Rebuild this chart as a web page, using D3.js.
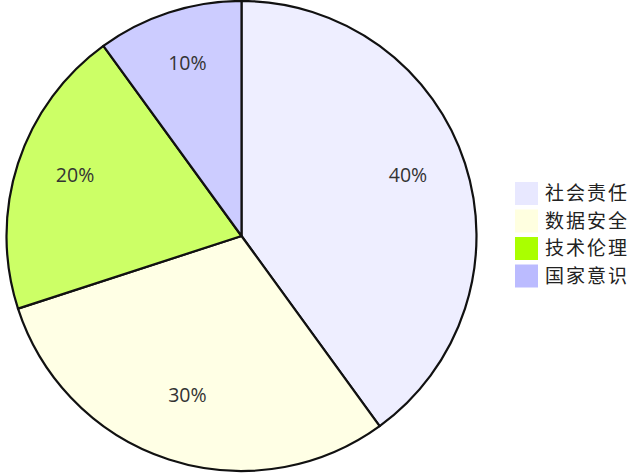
<!DOCTYPE html>
<html><head><meta charset="utf-8">
<script src="https://cdn.jsdelivr.net/npm/d3@7/dist/d3.min.js"></script>
<style>body{margin:0;background:#fff;}svg{display:block;}</style>
</head><body>
<svg id="c" width="639" height="474"></svg>
<script>
const categories = ["社会责任", "数据安全", "技术伦理", "国家意识"];
const values = [40, 30, 20, 10];
const labels = ["40%", "30%", "20%", "10%"];
const sliceColors = ["#eeeeff", "#ffffe5", "#ccff66", "#ccccff"];
const legendColors = ["#e8e8ff", "#ffffe0", "#aaff00", "#bbbbff"];

const svg = d3.select("#c");
const cx = 241.5, cy = 236, R = 235;
const g = svg.append("g").attr("transform", `translate(${cx},${cy})`);
const pie = d3.pie().sort(null).value(d => d)(values);
const arc = d3.arc().innerRadius(0).outerRadius(R);
const labelArc = d3.arc().innerRadius(175).outerRadius(175);

g.selectAll("path.s").data(pie).join("path")
  .attr("class", "s")
  .attr("d", arc)
  .attr("fill", (d, i) => sliceColors[i])
  .attr("stroke", "#111")
  .attr("stroke-width", 2.2)
  .attr("stroke-linejoin", "round");

g.selectAll("text.l").data(pie).join("text")
  .attr("class", "l")
  .attr("transform", d => { const c = labelArc.centroid(d); return `translate(${c[0]},${c[1]})`; })
  .attr("text-anchor", "middle")
  .attr("font-family", "'Open Sans', 'Noto Sans', sans-serif")
  .attr("font-size", 19.5)
  .attr("fill", "#333")
  .text((d, i) => labels[i]);

const lg = svg.append("g").attr("transform", "translate(515,182)");
const row = lg.selectAll("g").data(categories).join("g")
  .attr("transform", (d, i) => `translate(0,${i * 27.5})`);
row.append("rect").attr("width", 23).attr("height", 23)
  .attr("fill", (d, i) => legendColors[i]);
row.append("text").attr("x", 30).attr("y", 11.5).attr("dy", "0.36em")
  .attr("font-family", "'Noto Sans CJK SC', sans-serif")
  .attr("font-size", 19).attr("letter-spacing", 2).attr("fill", "#222")
  .text(d => d);
</script>
</body></html>
